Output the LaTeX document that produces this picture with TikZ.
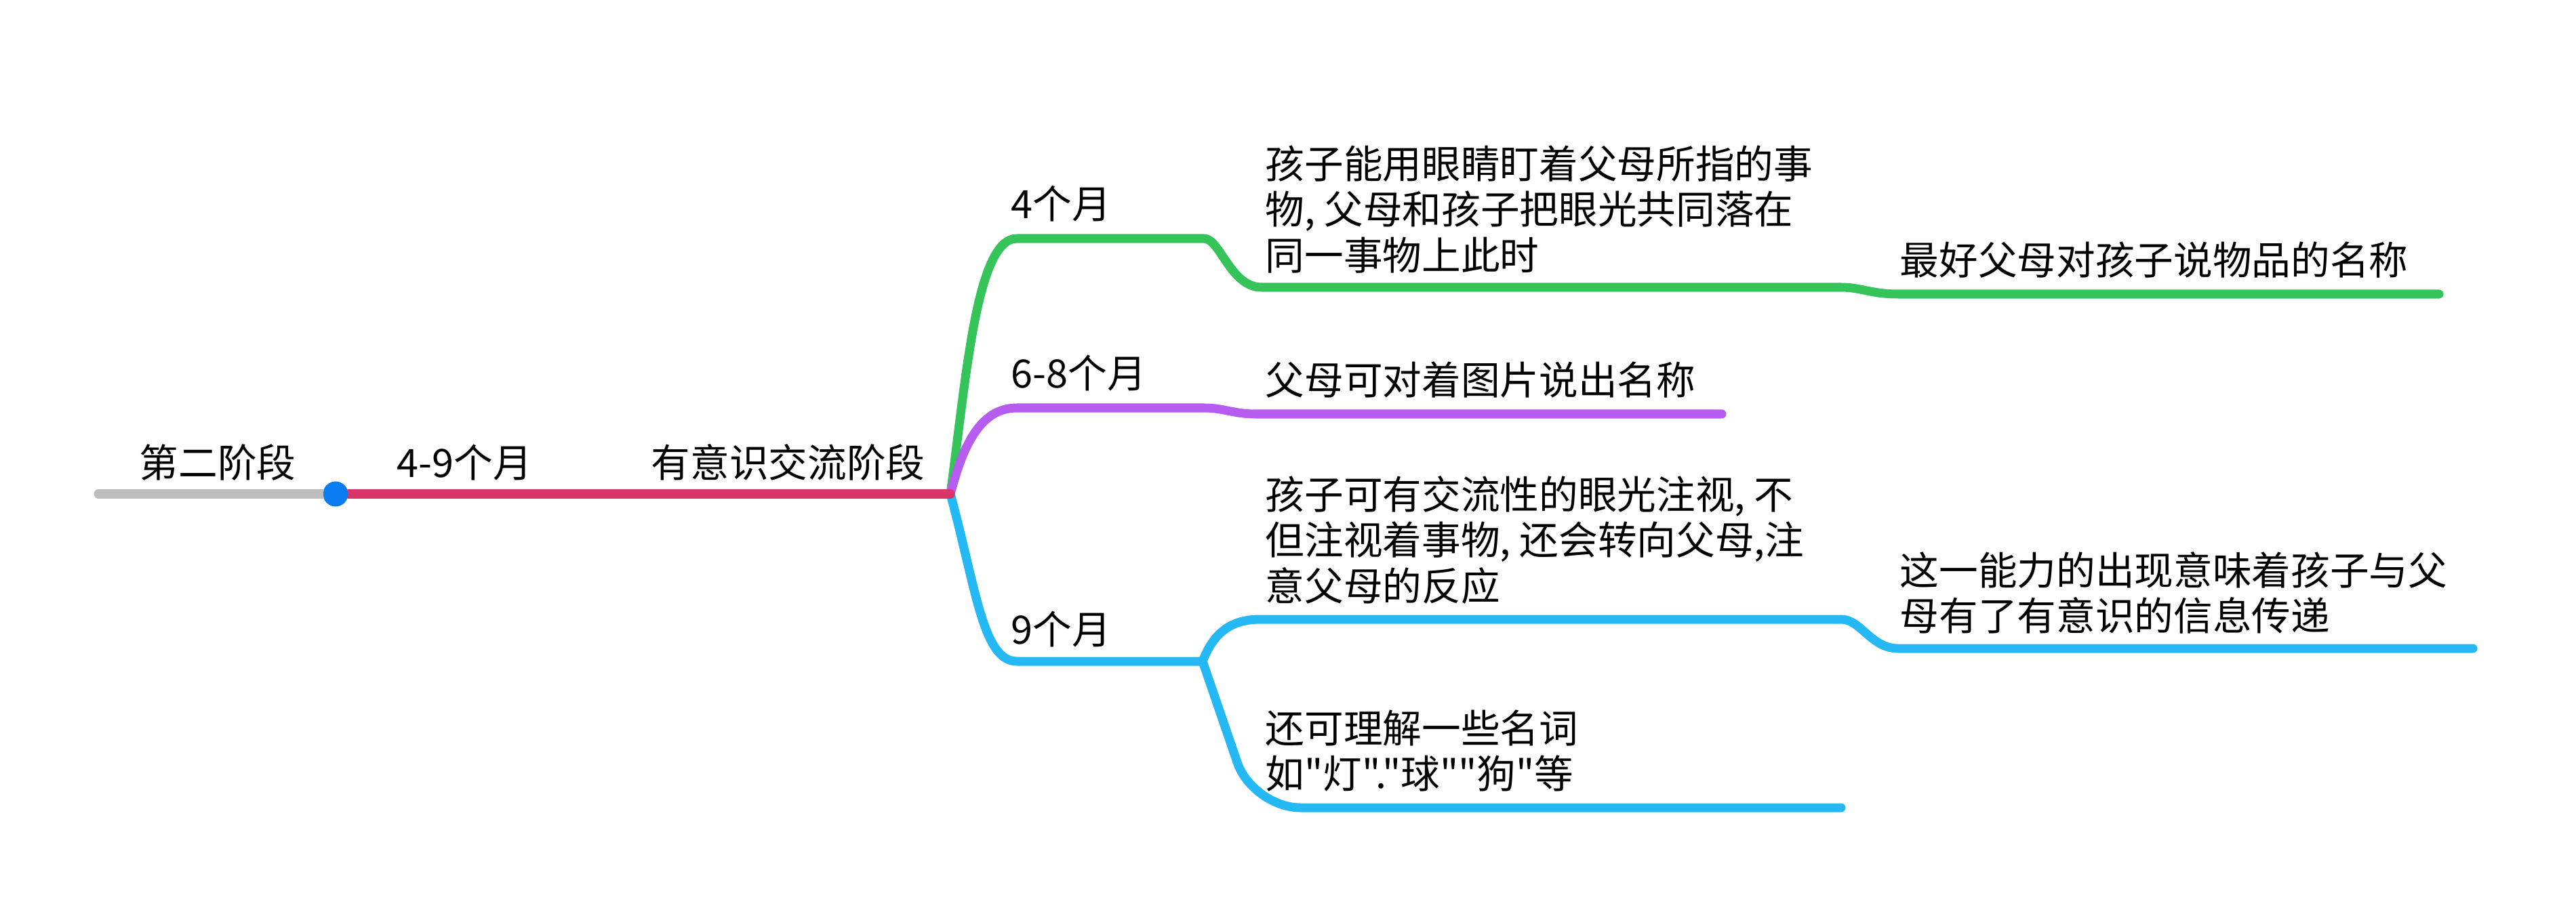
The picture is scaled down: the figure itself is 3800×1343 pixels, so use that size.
\documentclass[tikz,border=0pt]{standalone}
\usepackage{fontspec}
\setmainfont{Noto Sans CJK SC}[Ligatures=TeXOff]
\usepackage{tikz}

\definecolor{rootgray}{HTML}{BDBDBD}
\definecolor{stagered}{HTML}{D9356A}
\definecolor{dotblue}{HTML}{0A7CF2}
\definecolor{brgreen}{HTML}{35C45A}
\definecolor{brpurple}{HTML}{B65CF0}
\definecolor{brblue}{HTML}{24B8F5}
\newcommand{\topstrut}{\rule{0pt}{14.8pt}}

\begin{document}
\begin{tikzpicture}[x=0.01cm,y=-0.01cm,
  every node/.style={inner sep=0pt},
  lbl/.style={anchor=north west,align=left,
    font=\fontsize{16.4pt}{19.1pt}\selectfont},
  twig/.style={line width=3.7pt,line cap=round,line join=round}]
\fill[white] (0,0) rectangle (3800,1343);
\useasboundingbox (0,0) rectangle (3800,1343);

% points of the lines
\coordinate (start) at (145,729);
\coordinate (hub) at (1402,729);
\coordinate (ga) at (1500,352);
\coordinate (gb) at (1776,352);
\coordinate (gc) at (1861,424);
\coordinate (gd) at (2716,424);
\coordinate (ge) at (2800,434);
\coordinate (gf) at (3598,434);
\coordinate (pa) at (1500,602);
\coordinate (pb) at (1776,602);
\coordinate (pc) at (1852,611);
\coordinate (pd) at (2540,611);
\coordinate (ba) at (1500,976);
\coordinate (bb) at (1774,976);
\coordinate (bc) at (1859,914);
\coordinate (bd) at (2716,914);
\coordinate (be) at (2800,957);
\coordinate (bf) at (3648,957);
\coordinate (bg) at (1859,1192);
\coordinate (bh) at (2716,1192);

% texts
\node[lbl] (stage) at (205,652) {\topstrut 第二阶段};
\node[lbl] (age) at (585,652) {\topstrut 4-9个月};
\node[lbl] (theme) at (960,652) {\topstrut 有意识交流阶段};
\node[lbl] (mfour) at (1491,270) {\topstrut 4个月};
\node[lbl] (msix) at (1491,520) {\topstrut 6-8个月};
\node[lbl] (mnine) at (1491,898) {\topstrut 9个月};
\node[lbl] (gaze) at (1866,211) {\topstrut 孩子能用眼睛盯着父母所指的事\\物, 父母和孩子把眼光共同落在\\同一事物上此时};
\node[lbl] (naming) at (2802,353) {\topstrut 最好父母对孩子说物品的名称};
\node[lbl] (pics) at (1866,530) {\topstrut 父母可对着图片说出名称};
\node[lbl] (look) at (1866,699) {\topstrut 孩子可有交流性的眼光注视, 不\\但注视着事物, 还会转向父母,注\\意父母的反应};
\node[lbl] (meaning) at (2802,811) {\topstrut 这一能力的出现意味着孩子与父\\母有了有意识的信息传递};
\node[lbl] (nouns) at (1866,1044) {\topstrut 还可理解一些名词\\如"灯"."球""狗"等};

% branches
\draw[twig,brgreen] (hub) .. controls (1425,560) and (1440,352) .. (ga) -- (gb)
  .. controls (1800,352) and (1815,424) .. (gc) -- (gd)
  .. controls (2745,424) and (2760,434) .. (ge) -- (gf);
\draw[twig,brpurple] (hub) .. controls (1420,660) and (1445,602) .. (pa) -- (pb)
  .. controls (1805,602) and (1820,611) .. (pc) -- (pd);
\draw[twig,brblue] (hub) .. controls (1440,870) and (1450,976) .. (ba) -- (bb)
  .. controls (1788,940) and (1810,914) .. (bc) -- (bd)
  .. controls (2745,914) and (2760,957) .. (be) -- (bf);
\draw[twig,brblue,rounded corners=20] (bb) -- (1848,1192) -- (bh);

% root line
\node[circle,fill=dotblue,minimum size=0.37cm] (dot) at (495,729) {};
\draw[twig,rootgray] (start) -- (dot.west);
\draw[twig,stagered] (dot.east) -- (hub);
\fill[dotblue] (dot) circle (18);
\end{tikzpicture}
\end{document}
